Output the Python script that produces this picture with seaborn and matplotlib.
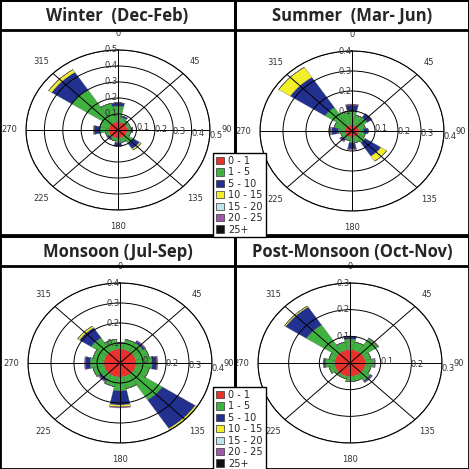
import numpy as np
import matplotlib
matplotlib.use("Agg")
import matplotlib.pyplot as plt
import seaborn as sns
from matplotlib.patches import Rectangle, Patch

sns.set_theme(style="white")
plt.rcParams['font.family'] = ['DejaVu Sans']

# 16 directions, N clockwise
directions = np.arange(0, 360, 22.5)
speed_bins = ['0 - 1', '1 - 5', '5 - 10', '10 - 15', '15 - 20', '20 - 25', '25+']
bin_colors = ['#e8322b', '#3fb23f', '#22308f', '#f2ef2a', '#bfe6ea', '#a058a8', '#111111']

titles = ['Winter  (Dec-Feb)', 'Summer  (Mar- Jun)', 'Monsoon (Jul-Sep)', 'Post-Monsoon (Oct-Nov)']
rmax = [0.5, 0.4, 0.4, 0.3]

# calm (0-1) radius per season
calm = [0.05, 0.03, 0.07, 0.05]
# per-bin increments for each direction (N, NNE, NE, ... NNW)
winter_green = [0.10, 0.03, 0.02, 0.02, 0.02, 0.02, 0.05, 0.03, 0.03, 0.02, 0.01, 0.02, 0.05, 0.05, 0.25, 0.12]
winter_blue = [0.02, 0.01, 0, 0, 0.01, 0, 0.04, 0, 0.02, 0, 0.01, 0, 0.03, 0, 0.13, 0]
winter_yellow = [0, 0, 0, 0, 0, 0, 0.01, 0, 0, 0, 0, 0, 0, 0, 0.02, 0]
winter_cyan = [0] * 16
winter_purple = [0, 0, 0, 0, 0, 0, 0, 0, 0.005, 0, 0.005, 0, 0.005, 0, 0, 0]

summer_green = [0.07, 0.05, 0.05, 0.03, 0.02, 0.03, 0.04, 0.03, 0.03, 0.02, 0.02, 0.02, 0.03, 0.05, 0.11, 0.07]
summer_blue = [0.03, 0, 0.02, 0, 0.02, 0, 0.08, 0, 0.03, 0, 0.01, 0, 0.03, 0, 0.18, 0]
summer_yellow = [0, 0, 0, 0, 0, 0, 0.03, 0, 0, 0, 0, 0, 0.005, 0, 0.06, 0]
summer_cyan = [0] * 16
summer_purple = [0.005, 0, 0.005, 0, 0, 0, 0, 0, 0.005, 0, 0.005, 0, 0.005, 0, 0, 0]

monsoon_green = [0.03, 0.05, 0.05, 0.06, 0.07, 0.06, 0.15, 0.06, 0.07, 0.05, 0.03, 0.05, 0.06, 0.05, 0.08, 0.05]
monsoon_blue = [0, 0, 0.01, 0, 0.02, 0, 0.17, 0, 0.07, 0, 0.01, 0, 0.02, 0, 0.06, 0]
monsoon_yellow = [0, 0, 0, 0, 0, 0, 0.04, 0, 0.01, 0, 0, 0, 0, 0, 0.01, 0]
monsoon_cyan = [0, 0, 0, 0, 0, 0, 0.006, 0, 0, 0, 0, 0, 0, 0, 0, 0]
monsoon_purple = [0.005, 0, 0.005, 0, 0.005, 0, 0, 0, 0.005, 0, 0.005, 0, 0.005, 0, 0, 0]

post_green = [0.04, 0.03, 0.06, 0.02, 0.03, 0.02, 0.03, 0.02, 0.02, 0.01, 0.01, 0.02, 0.03, 0.02, 0.12, 0.03]
post_blue = [0.01, 0, 0, 0, 0, 0, 0.005, 0, 0, 0, 0, 0, 0.005, 0, 0.08, 0]
post_yellow = [0, 0, 0, 0, 0, 0, 0, 0, 0, 0, 0, 0, 0, 0, 0.005, 0]
post_cyan = [0] * 16
post_purple = [0, 0, 0.003, 0, 0.003, 0, 0.003, 0, 0, 0, 0, 0, 0.003, 0, 0, 0]

seasons = [
    [winter_green, winter_blue, winter_yellow, winter_cyan, winter_purple],
    [summer_green, summer_blue, summer_yellow, summer_cyan, summer_purple],
    [monsoon_green, monsoon_blue, monsoon_yellow, monsoon_cyan, monsoon_purple],
    [post_green, post_blue, post_yellow, post_cyan, post_purple],
]

fig = plt.figure(figsize=(4.69, 4.69), dpi=100)
W = H = 469.0

# panel frames and title boxes (pixel coords, from top-left)
panels = [(0, 0, 235, 235), (235, 0, 234, 235), (0, 236, 235, 233), (235, 236, 234, 233)]
title_h = 30
for (x, y, w, h), t in zip(panels, titles):
    fig.add_artist(Rectangle((x / W, 1 - (y + h) / H), w / W, h / H, transform=fig.transFigure,
                             fill=False, lw=2, ec='black'))
    fig.add_artist(Rectangle((x / W, 1 - (y + title_h) / H), w / W, title_h / H, transform=fig.transFigure,
                             fill=False, lw=2, ec='black'))
    fig.text((x + w / 2) / W, 1 - (y + title_h / 2 + 1) / H, t, ha='center', va='center',
             fontsize=12, fontweight='bold', family='Open Sans')

centers = [(118, 130), (352, 131), (120, 363), (350, 363)]
rx, ry = 92, 80
width = np.deg2rad(24)
theta = np.deg2rad(directions)

for i, (cx, cy) in enumerate(centers):
    ax = fig.add_axes([(cx - rx) / W, 1 - (cy + ry) / H, 2 * rx / W, 2 * ry / H], projection='polar')
    ax.set_aspect('auto')
    ax.set_theta_zero_location('N')
    ax.set_theta_direction(-1)
    # calm circle
    ax.bar(0, calm[i], width=2 * np.pi, color=bin_colors[0], edgecolor='none')
    bottom = np.full(16, calm[i])
    for k, vals in enumerate(seasons[i]):
        vals = np.array(vals)
        ax.bar(theta, vals, width=width, bottom=bottom, color=bin_colors[k + 1],
               edgecolor='#555555', linewidth=0.2)
        bottom = bottom + vals
    ax.set_ylim(0, rmax[i])
    ticks = np.round(np.arange(0.1, rmax[i] + 0.001, 0.1), 1)
    ax.set_yticks(ticks)
    ax.set_yticklabels([f'{t:g}' for t in ticks], fontsize=6, color='#333333')
    ax.set_rlabel_position(97)
    for t in ticks:
        ax.text(0, t, f'{t:g}', fontsize=6, color='#333333', ha='right', va='center')
    ax.set_xticks(np.deg2rad(np.arange(0, 360, 45)))
    ax.set_xticklabels([str(a) for a in range(0, 360, 45)], fontsize=6, color='#333333')
    ax.tick_params(axis='x', pad=-1)
    ax.grid(True, color='black', lw=0.7)
    ax.set_axisbelow(False)
    ax.spines['polar'].set_color('black')
    ax.spines['polar'].set_linewidth(0.8)

handles = [Patch(facecolor=c, edgecolor='#333333', lw=0.5) for c in bin_colors]
for top in [148, 382]:
    fig.legend(handles, speed_bins, loc='upper left', bbox_to_anchor=(208 / W, 1 - top / H),
               fontsize=7, frameon=True, fancybox=False, edgecolor='black', handlelength=0.8,
               handleheight=0.8, labelspacing=0.15, borderpad=0.3, handletextpad=0.5,
               framealpha=1)

fig.savefig('out.png', dpi=100)
